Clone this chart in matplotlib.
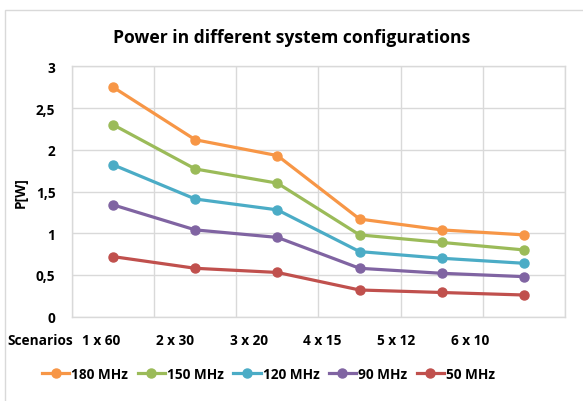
import matplotlib
matplotlib.use("Agg")
import matplotlib.pyplot as plt
import matplotlib.patches as patches
from matplotlib.ticker import FuncFormatter

plt.rcParams['font.family'] = ['Open Sans', 'DejaVu Sans']

scenarios = ['1 x 60', '2 x 30', '3 x 20', '4 x 15', '5 x 12', '6 x 10']
series_names = ['180 MHz', '150 MHz', '120 MHz', '90 MHz', '50 MHz']
p_180 = [2.75, 2.12, 1.93, 1.17, 1.04, 0.98]
p_150 = [2.30, 1.77, 1.60, 0.98, 0.89, 0.80]
p_120 = [1.82, 1.41, 1.28, 0.78, 0.70, 0.64]
p_90 = [1.34, 1.04, 0.95, 0.58, 0.52, 0.48]
p_50 = [0.72, 0.58, 0.53, 0.32, 0.29, 0.26]
colors = ['#F79646', '#9BBB59', '#4BACC6', '#8064A2', '#C0504D']

W, H = 583, 402
fs = 9.8
fig = plt.figure(figsize=(W / 100, H / 100), dpi=100)
ax = fig.add_axes([72 / W, 1 - 317.7 / H, 493 / W, 250.4 / H])

# outer chart border
fig.patches.append(patches.Rectangle((5 / W, -0.1), 1.2, 1 - 10.5 / H + 0.1,
                                     transform=fig.transFigure, fill=False,
                                     ec='#D9D9D9', lw=1.0))

x = list(range(len(scenarios)))
for vals, name, c in zip([p_180, p_150, p_120, p_90, p_50], series_names, colors):
    ax.plot(x, vals, color=c, lw=2.3, marker='o', markersize=6.5, label=name)

ax.set_xlim(-0.5, len(scenarios) - 0.5)
ax.set_ylim(0, 3)
ax.set_yticks([0, 0.5, 1, 1.5, 2, 2.5, 3])
ax.yaxis.set_major_formatter(FuncFormatter(lambda v, p: ('%g' % v).replace('.', ',')))
ax.set_xticks([i + 0.5 for i in range(-1, len(scenarios))])
ax.set_xticklabels([])
ax.grid(True, color='#D9D9D9', lw=1.0)
ax.set_axisbelow(True)
ax.tick_params(length=0, labelsize=fs, pad=12)
for lab in ax.get_yticklabels():
    lab.set_fontweight('bold')
for s in ax.spines.values():
    s.set_color('#D9D9D9')
    s.set_linewidth(1.0)

ax.set_ylabel('P[W]', fontsize=fs, fontweight='bold', labelpad=6)
fig.text(292 / W, 1 - 38 / H, 'Power in different system configurations',
         ha='center', va='center', fontsize=12.6, fontweight='bold')

# category labels row
label_y = 1 - 341 / H
fig.text(40 / W, label_y, 'Scenarios', ha='center', va='center', fontsize=fs, fontweight='bold')
for i, s in enumerate(scenarios):
    fig.text((100.8 + 73.9 * i) / W, label_y, s, ha='center', va='center',
             fontsize=fs, fontweight='bold')

leg = fig.legend(loc='center', bbox_to_anchor=(268.5 / W, 1 - 375 / H), ncol=5,
                 frameon=False, handlelength=2.0, handletextpad=0.15,
                 columnspacing=0.7, prop={'weight': 'bold', 'size': fs})

fig.savefig('out.png', dpi=100)
